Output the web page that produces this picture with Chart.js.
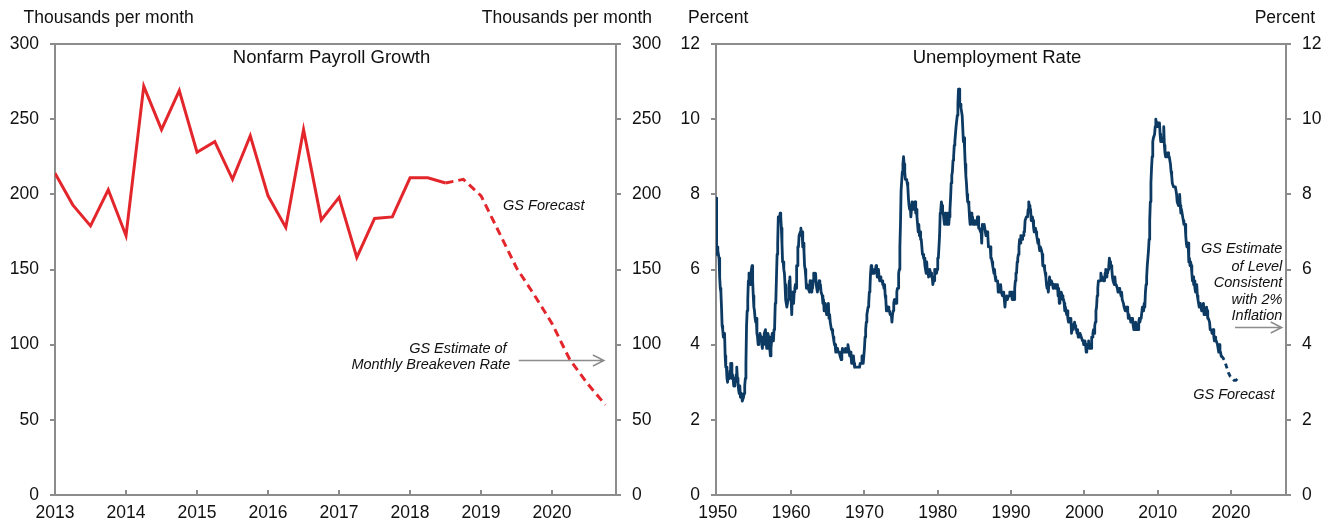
<!DOCTYPE html>
<html lang="en">
<head>
<meta charset="UTF-8">
<title>Payroll Growth and Unemployment</title>
<script src="https://cdn.jsdelivr.net/npm/chart.js@4"></script>
<style>
    body {
        margin: 0;
        background: #fff;
        width: 1335px;
        height: 524px;
        overflow: hidden;
        position: relative;
    }
    canvas { position: absolute; top: 0; }
    #payChart { left: 0; }
    #urChart { left: 667px; }
</style>
</head>
<body>
<canvas id="payChart" width="667" height="524"></canvas>
<canvas id="urChart" width="668" height="524"></canvas>
<script>
// ---- Nonfarm payrolls, thousands per month, quarterly from 2013 Q1 ----
const payStart = 2013;
const payActual = [214, 193, 179, 203, 172.5, 272, 243, 269, 228, 235, 210, 239,
                   199, 178, 243, 183, 198, 158, 184, 185, 211, 211, 207.5];
const payForecastStart = 2018.5;
const payForecast = [207.5, 210, 199, 175, 151, 133, 114, 90, 74, 60];
const payYears = [2013, 2014, 2015, 2016, 2017, 2018, 2019, 2020];
const payBreakeven = 90;

// ---- Unemployment rate, percent, monthly from Oct 1949 to Sep 2018 ----
const urStart = 1949.75;
const urMonthly = [
    7.9, 6.4, 6.6,
    6.5, 6.4, 6.3, 5.8, 5.5, 5.4, 5.0, 4.5, 4.4, 4.2, 4.2, 4.3,
    3.7, 3.4, 3.4, 3.1, 3.0, 3.2, 3.1, 3.1, 3.3, 3.5, 3.5, 3.1,
    3.2, 3.1, 2.9, 2.9, 3.0, 3.0, 3.2, 3.4, 3.1, 3.0, 2.8, 2.7,
    2.9, 2.6, 2.6, 2.7, 2.5, 2.5, 2.6, 2.7, 2.9, 3.1, 3.5, 4.5,
    4.9, 5.2, 5.7, 5.9, 5.9, 5.6, 5.8, 6.0, 6.1, 5.7, 5.3, 5.0,
    4.9, 4.7, 4.6, 4.7, 4.3, 4.2, 4.0, 4.2, 4.1, 4.3, 4.2, 4.2,
    4.0, 3.9, 4.2, 4.0, 4.3, 4.3, 4.4, 4.1, 3.9, 3.9, 4.3, 4.2,
    4.2, 3.9, 3.7, 3.9, 4.1, 4.3, 4.2, 4.1, 4.4, 4.5, 5.1, 5.2,
    5.8, 6.4, 6.7, 7.4, 7.4, 7.3, 7.5, 7.4, 7.1, 6.7, 6.2, 6.2,
    6.0, 5.9, 5.6, 5.2, 5.1, 5.0, 5.1, 5.2, 5.5, 5.7, 5.8, 5.3,
    5.2, 4.8, 5.4, 5.2, 5.1, 5.4, 5.5, 5.6, 5.5, 6.1, 6.1, 6.6,
    6.6, 6.9, 6.9, 7.0, 7.1, 6.9, 7.0, 6.6, 6.7, 6.5, 6.1, 6.0,
    5.8, 5.5, 5.6, 5.6, 5.5, 5.5, 5.4, 5.7, 5.6, 5.4, 5.7, 5.5,
    5.7, 5.9, 5.7, 5.7, 5.9, 5.6, 5.6, 5.4, 5.5, 5.5, 5.7, 5.5,
    5.6, 5.4, 5.4, 5.3, 5.1, 5.2, 4.9, 5.0, 5.1, 5.1, 4.8, 5.0,
    4.9, 5.1, 4.7, 4.8, 4.6, 4.6, 4.4, 4.4, 4.3, 4.2, 4.1, 4.0,
    4.0, 3.8, 3.8, 3.8, 3.9, 3.8, 3.8, 3.8, 3.7, 3.7, 3.6, 3.8,
    3.9, 3.8, 3.8, 3.8, 3.8, 3.9, 3.8, 3.8, 3.8, 4.0, 3.9, 3.8,
    3.7, 3.8, 3.7, 3.5, 3.5, 3.7, 3.7, 3.5, 3.4, 3.4, 3.4, 3.4,
    3.4, 3.4, 3.4, 3.4, 3.4, 3.5, 3.5, 3.5, 3.7, 3.7, 3.5, 3.5,
    3.9, 4.2, 4.4, 4.6, 4.8, 4.9, 5.0, 5.1, 5.4, 5.5, 5.9, 6.1,
    5.9, 5.9, 6.0, 5.9, 5.9, 5.9, 6.0, 6.1, 6.0, 5.8, 6.0, 6.0,
    5.8, 5.7, 5.8, 5.7, 5.7, 5.7, 5.6, 5.6, 5.5, 5.6, 5.3, 5.2,
    4.9, 5.0, 4.9, 5.0, 4.9, 4.9, 4.8, 4.8, 4.8, 4.6, 4.8, 4.9,
    5.1, 5.2, 5.1, 5.1, 5.1, 5.4, 5.5, 5.5, 5.9, 6.0, 6.6, 7.2,
    8.1, 8.1, 8.6, 8.8, 9.0, 8.8, 8.6, 8.4, 8.4, 8.4, 8.3, 8.2,
    7.9, 7.7, 7.6, 7.7, 7.4, 7.6, 7.8, 7.8, 7.6, 7.7, 7.8, 7.8,
    7.5, 7.6, 7.4, 7.2, 7.0, 7.2, 6.9, 7.0, 6.8, 6.8, 6.8, 6.4,
    6.4, 6.3, 6.3, 6.1, 6.0, 5.9, 6.2, 5.9, 6.0, 5.8, 5.9, 6.0,
    5.9, 5.9, 5.8, 5.8, 5.6, 5.7, 5.7, 6.0, 5.9, 6.0, 5.9, 6.0,
    6.3, 6.3, 6.3, 6.9, 7.5, 7.6, 7.8, 7.7, 7.5, 7.5, 7.5, 7.2,
    7.5, 7.4, 7.4, 7.2, 7.5, 7.5, 7.2, 7.4, 7.6, 7.9, 8.3, 8.5,
    8.6, 8.9, 9.0, 9.3, 9.4, 9.6, 9.8, 9.8, 10.1, 10.4, 10.8, 10.8,
    10.4, 10.4, 10.3, 10.2, 10.1, 10.1, 9.4, 9.5, 9.2, 8.8, 8.5, 8.3,
    8.0, 7.8, 7.8, 7.7, 7.4, 7.2, 7.5, 7.5, 7.3, 7.4, 7.2, 7.3,
    7.3, 7.2, 7.2, 7.3, 7.2, 7.4, 7.4, 7.1, 7.1, 7.1, 7.0, 7.0,
    6.7, 7.2, 7.2, 7.1, 7.2, 7.2, 7.0, 6.9, 7.0, 7.0, 6.9, 6.6,
    6.6, 6.6, 6.6, 6.3, 6.3, 6.2, 6.1, 6.0, 5.9, 6.0, 5.8, 5.7,
    5.7, 5.7, 5.7, 5.4, 5.6, 5.4, 5.4, 5.6, 5.4, 5.4, 5.3, 5.3,
    5.4, 5.2, 5.0, 5.2, 5.2, 5.3, 5.2, 5.2, 5.3, 5.3, 5.4, 5.4,
    5.4, 5.3, 5.2, 5.4, 5.4, 5.2, 5.5, 5.7, 5.9, 5.9, 6.2, 6.3,
    6.4, 6.6, 6.8, 6.7, 6.9, 6.9, 6.8, 6.9, 6.9, 7.0, 7.0, 7.3,
    7.3, 7.4, 7.4, 7.4, 7.6, 7.8, 7.7, 7.6, 7.6, 7.3, 7.4, 7.4,
    7.3, 7.1, 7.0, 7.1, 7.1, 7.0, 6.9, 6.8, 6.7, 6.8, 6.6, 6.5,
    6.6, 6.6, 6.5, 6.4, 6.1, 6.1, 6.1, 6.0, 5.9, 5.8, 5.6, 5.5,
    5.6, 5.4, 5.4, 5.8, 5.6, 5.6, 5.7, 5.7, 5.6, 5.5, 5.6, 5.6,
    5.6, 5.5, 5.5, 5.6, 5.6, 5.3, 5.5, 5.1, 5.2, 5.2, 5.4, 5.4,
    5.3, 5.2, 5.2, 5.1, 4.9, 5.0, 4.9, 4.8, 4.9, 4.7, 4.6, 4.7,
    4.6, 4.6, 4.7, 4.3, 4.4, 4.5, 4.5, 4.5, 4.6, 4.5, 4.4, 4.4,
    4.3, 4.4, 4.2, 4.3, 4.2, 4.3, 4.3, 4.2, 4.2, 4.1, 4.1, 4.0,
    4.0, 4.1, 4.0, 3.8, 4.0, 4.0, 4.0, 4.1, 3.9, 3.9, 3.9, 3.9,
    4.2, 4.2, 4.3, 4.4, 4.3, 4.5, 4.6, 4.9, 5.0, 5.3, 5.5, 5.7,
    5.7, 5.7, 5.7, 5.9, 5.8, 5.8, 5.8, 5.7, 5.7, 5.7, 5.9, 6.0,
    5.8, 5.9, 5.9, 6.0, 6.1, 6.3, 6.2, 6.1, 6.1, 6.0, 5.8, 5.7,
    5.7, 5.6, 5.8, 5.6, 5.6, 5.6, 5.5, 5.4, 5.4, 5.5, 5.4, 5.4,
    5.3, 5.4, 5.2, 5.2, 5.1, 5.0, 5.0, 4.9, 5.0, 5.0, 5.0, 4.9,
    4.7, 4.8, 4.7, 4.7, 4.6, 4.6, 4.7, 4.7, 4.5, 4.4, 4.5, 4.4,
    4.6, 4.5, 4.4, 4.5, 4.4, 4.6, 4.7, 4.6, 4.7, 4.7, 4.7, 5.0,
    5.0, 4.9, 5.1, 5.0, 5.4, 5.6, 5.8, 6.1, 6.1, 6.5, 6.8, 7.3,
    7.8, 8.3, 8.7, 9.0, 9.4, 9.5, 9.5, 9.6, 9.8, 10.0, 9.9, 9.9,
    9.8, 9.8, 9.9, 9.9, 9.6, 9.4, 9.4, 9.5, 9.5, 9.4, 9.8, 9.3,
    9.1, 9.0, 9.0, 9.1, 9.0, 9.1, 9.0, 9.0, 9.0, 8.8, 8.6, 8.5,
    8.3, 8.3, 8.2, 8.2, 8.2, 8.2, 8.2, 8.0, 7.8, 7.8, 7.7, 7.9,
    8.0, 7.7, 7.5, 7.6, 7.5, 7.5, 7.3, 7.2, 7.2, 7.2, 6.9, 6.7,
    6.6, 6.7, 6.7, 6.2, 6.3, 6.1, 6.2, 6.1, 5.9, 5.7, 5.8, 5.6,
    5.7, 5.5, 5.4, 5.4, 5.6, 5.3, 5.2, 5.1, 5.0, 5.0, 5.1, 5.0,
    4.9, 4.9, 5.0, 5.1, 4.8, 4.9, 4.8, 4.9, 5.0, 4.9, 4.7, 4.7,
    4.7, 4.6, 4.4, 4.4, 4.4, 4.3, 4.3, 4.4, 4.2, 4.1, 4.2, 4.1,
    4.1, 4.1, 4.0, 3.9, 3.8, 4.0, 3.8, 3.8, 3.7
];
const urForecastDates = [2018.667, 2018.917, 2019.167, 2019.417, 2019.667, 2019.917,
                         2020.167, 2020.417, 2020.667, 2020.917, 2021.167];
const urForecast = [3.7, 3.65, 3.55, 3.4, 3.25, 3.15, 3.1, 3.05, 3.05, 3.1, 3.15];
const urDecades = [1950, 1960, 1970, 1980, 1990, 2000, 2010, 2020];
const urConsistent = 4.48;

const GRAY = '#8c8c8c';
const INK = '#111111';
const FONT = '"Liberation Sans", Arial, sans-serif';
const RED = '#e3262c';
const NAVY = '#0c3a63';

function yAxis(position, max, step, width) {
    return {
        position: position,
        min: 0,
        max: max,
        afterFit: s => { s.width = width; },
        ticks: { stepSize: step, color: INK, font: { family: FONT, size: 17.5 }, padding: 11 },
        grid: {
            drawOnChartArea: true,
            color: c => (c.tick && c.tick.value === max) ? GRAY : 'rgba(0,0,0,0)',
            lineWidth: 2,
            tickLength: 5,
            tickColor: GRAY,
            tickWidth: 2
        },
        border: { display: true, color: GRAY, width: 2 }
    };
}

function xAxis(min, max, tickValues) {
    return {
        type: 'linear',
        min: min,
        max: max,
        afterFit: s => { s.height = 29; },
        afterBuildTicks: s => { s.ticks = tickValues.map(v => ({ value: v })); },
        ticks: {
            color: INK, font: { family: FONT, size: 17.5 }, padding: 8,
            maxRotation: 0, autoSkip: false, callback: v => String(v)
        },
        grid: { display: true, drawOnChartArea: false, drawTicks: false },
        border: { display: true, color: GRAY, width: 2 }
    };
}

// titles, unit labels, notes and arrows
function decorations(cfg) {
    return {
        id: 'decor',
        beforeDatasetsDraw(chart) {
            const { ctx, scales: { x, y } } = chart;
            const x0 = x.getPixelForValue(cfg.arrow.from);
            const x1 = x.getPixelForValue(cfg.arrow.to);
            const ay = Math.round(y.getPixelForValue(cfg.arrow.y)) + 0.5;
            ctx.save();
            ctx.strokeStyle = GRAY;
            ctx.lineWidth = 1.5;
            ctx.beginPath();
            ctx.moveTo(x0, ay);
            ctx.lineTo(x1, ay);
            ctx.moveTo(x1 - 11, ay - 5.5);
            ctx.lineTo(x1, ay);
            ctx.lineTo(x1 - 11, ay + 5.5);
            ctx.stroke();
            ctx.restore();
        },
        afterDraw(chart) {
            const { ctx, chartArea: area, scales: { x, y } } = chart;
            ctx.save();
            // x ticks point into the plot
            ctx.strokeStyle = GRAY;
            ctx.lineWidth = 2;
            x.ticks.forEach(t => {
                const px = Math.round(x.getPixelForValue(t.value));
                if (px - area.left < 3) return;
                ctx.beginPath();
                ctx.moveTo(px, area.bottom);
                ctx.lineTo(px, area.bottom - 5);
                ctx.stroke();
            });
            ctx.fillStyle = INK;
            ctx.textBaseline = 'middle';
            ctx.font = '17.5px ' + FONT;
            ctx.textAlign = 'left';
            ctx.fillText(cfg.unit, cfg.unitLeft, 18);
            ctx.textAlign = 'right';
            ctx.fillText(cfg.unit, cfg.unitRight, 18);
            ctx.font = '18.5px ' + FONT;
            ctx.textAlign = 'center';
            ctx.fillText(cfg.title, (area.left + area.right) / 2 - 4, area.top + 14);
            ctx.font = 'italic 14.5px ' + FONT;
            cfg.notes.forEach(n => {
                ctx.textAlign = n.align;
                ctx.fillText(n.text, x.getPixelForValue(n.x), y.getPixelForValue(n.y));
            });
            ctx.restore();
        }
    };
}

function makeChart(id, datasets, scales, decor) {
    return new Chart(document.getElementById(id), {
        type: 'line',
        data: { datasets: datasets },
        options: {
            responsive: false,
            animation: false,
            devicePixelRatio: 1,
            events: [],
            layout: { padding: { top: 44, left: 0, right: 0, bottom: 0 } },
            plugins: { legend: { display: false }, tooltip: { enabled: false } },
            elements: { point: { radius: 0 }, line: { tension: 0 } },
            scales: scales
        },
        plugins: [decorations(decor)]
    });
}

// ---- left: Nonfarm Payroll Growth ----
makeChart('payChart', [
    {
        data: payActual.map((v, i) => ({ x: payStart + i / 4, y: v })),
        borderColor: RED, borderWidth: 3
    },
    {
        data: payForecast.map((v, i) => ({ x: payForecastStart + i / 4, y: v })),
        borderColor: RED, borderWidth: 3, borderDash: [8, 5]
    }
], {
    x: xAxis(2013, 2020.9, payYears),
    y: yAxis('left', 300, 50, 55),
    y2: yAxis('right', 300, 50, 51)
}, {
    title: 'Nonfarm Payroll Growth',
    unit: 'Thousands per month',
    unitLeft: 23.5,
    unitRight: 652,
    arrow: { from: 2019.53, to: 2020.73, y: payBreakeven },
    notes: [
        { text: 'GS Forecast', x: 2019.31, y: 192.4, align: 'left' },
        { text: 'GS Estimate of', x: 2019.36, y: 97.1, align: 'right' },
        { text: 'Monthly Breakeven Rate', x: 2019.41, y: 86.5, align: 'right' }
    ]
});

// ---- right: Unemployment Rate ----
makeChart('urChart', [
    {
        data: urMonthly.map((v, i) => ({ x: urStart + i / 12, y: v })),
        borderColor: NAVY, borderWidth: 2.8, borderJoinStyle: 'round', borderCapStyle: 'round'
    },
    {
        data: urForecast.map((v, i) => ({ x: urForecastDates[i], y: v })),
        borderColor: NAVY, borderWidth: 2.8, borderDash: [5, 4]
    }
], {
    x: xAxis(1949.75, 2027.51, urDecades),
    y: yAxis('left', 12, 2, 49),
    y2: yAxis('right', 12, 2, 49)
}, {
    title: 'Unemployment Rate',
    unit: 'Percent',
    unitLeft: 21,
    unitRight: 648,
    arrow: { from: 2020.56, to: 2026.93, y: urConsistent },
    notes: [
        { text: 'GS Estimate', x: 2027.01, y: 6.54, align: 'right' },
        { text: 'of Level', x: 2027.01, y: 6.07, align: 'right' },
        { text: 'Consistent', x: 2027.01, y: 5.63, align: 'right' },
        { text: 'with 2%', x: 2027.01, y: 5.19, align: 'right' },
        { text: 'Inflation', x: 2027.01, y: 4.76, align: 'right' },
        { text: 'GS Forecast', x: 2025.95, y: 2.66, align: 'right' }
    ]
});
</script>
</body>
</html>
